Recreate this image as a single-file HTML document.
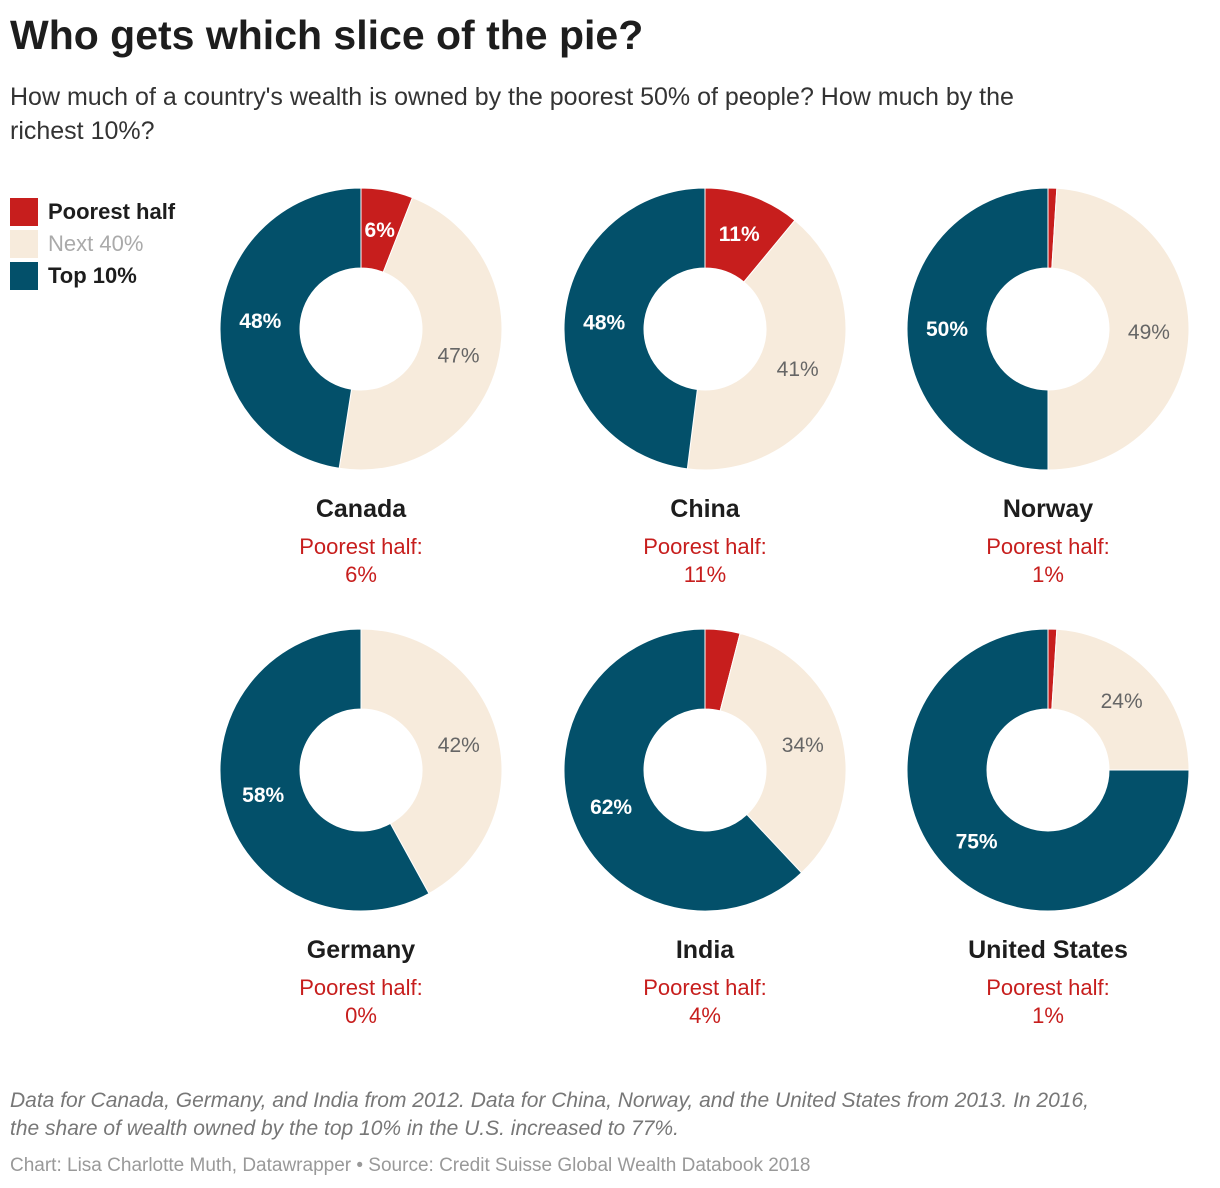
<!DOCTYPE html>
<html><head><meta charset="utf-8"><style>
body{margin:0;width:1220px;height:1188px;background:#fff;font-family:"Liberation Sans",sans-serif;position:relative;overflow:hidden;color:#1d1d1d}
.t{position:absolute;left:10px;top:12px;font-size:41px;font-weight:bold;margin:0}
.s{position:absolute;left:10px;top:80px;font-size:25px;line-height:34px;width:1050px;color:#333}
.lg{position:absolute;left:10px;font-size:22px;height:28px;line-height:28px}
.lg span{display:inline-block;width:28px;height:28px;vertical-align:top;margin-right:10px}
.n{position:absolute;left:10px;top:1087px;font-size:21px;line-height:28px;font-style:italic;color:#777;width:1110px}
.c{position:absolute;left:10px;top:1155px;font-size:19px;color:#999}
</style></head><body>
<h1 class="t">Who gets which slice of the pie?</h1>
<div class="s">How much of a country's wealth is owned by the poorest 50% of people? How much by the richest 10%?</div>
<div class="lg" style="top:198px;font-weight:bold"><span style="background:#c71e1d"></span>Poorest half</div>
<div class="lg" style="top:230px;color:#aaa"><span style="background:#f7ebdc"></span>Next 40%</div>
<div class="lg" style="top:262px;font-weight:bold"><span style="background:#03506a"></span>Top 10%</div>
<svg id="ch" width="1220" height="1188" style="position:absolute;left:0;top:0"></svg>
<div class="n">Data for Canada, Germany, and India from 2012. Data for China, Norway, and the United States from 2013. In 2016, the share of wealth owned by the top 10% in the U.S. increased to 77%.</div>
<div class="c">Chart: Lisa Charlotte Muth, Datawrapper • Source: Credit Suisse Global Wealth Databook 2018</div>
<script>
const countries=["Canada","China","Norway","Germany","India","United States"];
const poorest=[6,11,1,0,4,1];
const next40=[47,41,49,42,34,24];
const top10=[48,48,50,58,62,75];
const colors=["#c71e1d","#f7ebdc","#03506a"];
const svg=document.getElementById('ch');
const NS="http://www.w3.org/2000/svg";
const cx=[361,705,1048],cy=[329,770],R=141,r=61;
function pt(a,rad,x,y){return [x+rad*Math.sin(a),y-rad*Math.cos(a)];}
function mk(tag,at){const e=document.createElementNS(NS,tag);for(const k in at)e.setAttribute(k,at[k]);svg.appendChild(e);return e;}
countries.forEach((c,i)=>{
  const x=cx[i%3],y=cy[Math.floor(i/3)];
  const vals=[poorest[i],next40[i],top10[i]];
  const tot=vals.reduce((a,b)=>a+b,0);
  let a0=0;
  vals.forEach((v,j)=>{
    if(v<=0)return;
    const a1=a0+v/tot*2*Math.PI;
    const large=(a1-a0)>Math.PI?1:0;
    const p1=pt(a0,R,x,y),p2=pt(a1,R,x,y),p3=pt(a1,r,x,y),p4=pt(a0,r,x,y);
    const p=mk('path',{d:`M${p1}A${R},${R} 0 ${large} 1 ${p2}L${p3}A${r},${r} 0 ${large} 0 ${p4}Z`,fill:colors[j],stroke:'#fff','stroke-width':1});
    
    
    if(v>=5){
      const m=pt((a0+a1)/2,101,x,y);
      const t=mk('text',{x:m[0],y:m[1]+7,'text-anchor':'middle','font-size':21,fill:j==1?'#666':'#fff','font-weight':j==1?'normal':'bold'});
      t.textContent=v+'%';
      
      
    }
    a0=a1;
  });
  const ty=y+188;
  const t1=mk('text',{x:x,y:ty,'text-anchor':'middle','font-size':25,'font-weight':'bold',fill:'#1d1d1d'});
  t1.textContent=c;
  
  
  const t2=mk('text',{x:x,y:ty+37,'text-anchor':'middle','font-size':22,fill:'#c71e1d'});
  t2.textContent='Poorest half:';
  
  
  const t3=mk('text',{x:x,y:ty+65,'text-anchor':'middle','font-size':22,fill:'#c71e1d'});
  t3.textContent=poorest[i]+'%';
  
  
});
</script>
</body></html>
